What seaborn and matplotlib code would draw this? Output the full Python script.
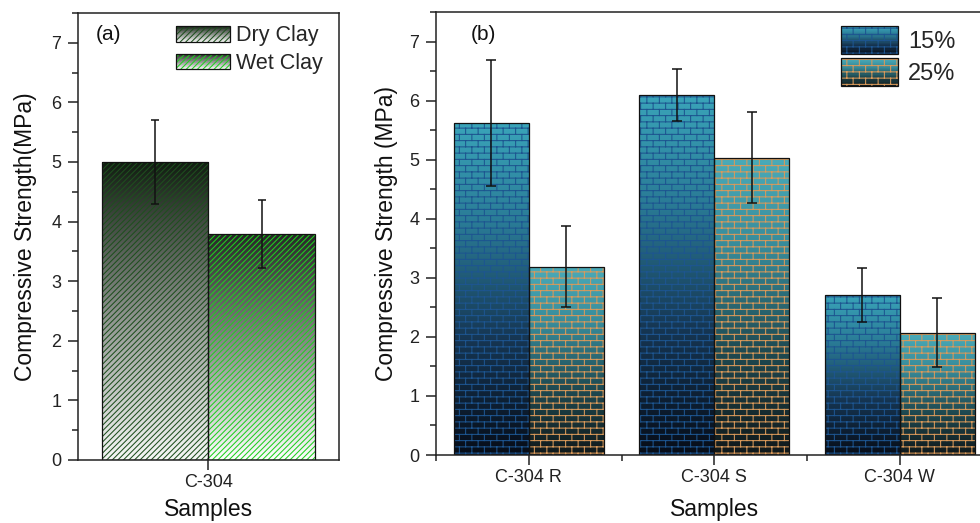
import warnings
warnings.filterwarnings('ignore')
import numpy as np
import pandas as pd
import matplotlib
matplotlib.use('Agg')
import matplotlib.pyplot as plt
import seaborn as sns
from matplotlib.patches import Rectangle
from matplotlib.colors import LinearSegmentedColormap
from matplotlib.legend_handler import HandlerBase
from matplotlib.ticker import MultipleLocator, FixedLocator
from matplotlib.container import BarContainer
from matplotlib import hatch as mhatch
from matplotlib.path import Path

# ---------------- data ----------------
samples_a = ["C-304"]
types_a = ["Dry Clay", "Wet Clay"]
strength_a = [5.00, 3.79]
error_a = [0.70, 0.57]

samples_b = ["C-304 R", "C-304 S", "C-304 W"]
levels_b = ["15%", "25%"]
strength_15 = [5.62, 6.09, 2.71]
error_15 = [1.06, 0.44, 0.46]
strength_25 = [3.19, 5.03, 2.07]
error_25 = [0.69, 0.77, 0.58]

yticks = [0, 1, 2, 3, 4, 5, 6, 7]


# ---------------- brick hatch ----------------
class BrickHatch(mhatch.HatchPatternBase):
    rows, cols = 16, 8

    def __init__(self, hatch, density):
        n = hatch.count('b')
        if n:
            self.num_lines = self.rows + self.rows * self.cols + self.cols
        else:
            self.num_lines = 0
        self.num_vertices = self.num_lines * 2

    def set_vertices_and_codes(self, vertices, codes):
        R, C = self.rows, self.cols
        segs = []
        for k in range(R):
            y = (k + 0.5) / R
            segs.append(((0.0, y), (1.0, y)))
        for k in range(R):
            y0 = (k + 0.5) / R
            y1 = min(y0 + 1.0 / R, 1.0)
            off = 0.25 + 0.5 * (k % 2)
            for j in range(C):
                x = (j + off) / C
                segs.append(((x, y0), (x, y1)))
        off = 0.25 + 0.5 * ((R - 1) % 2)
        for j in range(C):
            x = (j + off) / C
            segs.append(((x, 0.0), (x, 0.5 / R)))
        arr = np.array(segs, dtype=float).reshape(-1, 2)
        vertices[:] = arr
        codes[0::2] = Path.MOVETO
        codes[1::2] = Path.LINETO


mhatch._hatch_types.append(BrickHatch)

# ---------------- style ----------------
sns.set_style('ticks')
plt.rcParams['font.family'] = ['Liberation Sans', 'DejaVu Sans']
plt.rcParams['hatch.linewidth'] = 0.75
plt.rcParams['axes.linewidth'] = 1.1

cmap_dry = LinearSegmentedColormap.from_list('dry', ['#f6f8f6', '#8a8f8a', '#101c10'])
cmap_wet = LinearSegmentedColormap.from_list('wet', ['#ffffff', '#8c8c8c', '#262626'])
cmap_15 = LinearSegmentedColormap.from_list('c15', [(0, '#070d18'), (0.35, '#163653'),
                                                     (0.7, '#2a7b96'), (1, '#3aa4b9')])
cmap_25 = LinearSegmentedColormap.from_list('c25', [(0, '#10181a'), (0.35, '#1f4a52'),
                                                     (0.7, '#388b9a'), (1, '#4aabb9')])
hatch_a = ['//////', '//////']
hcol_a = ['#1e4f1e', '#1fd01f']
cmaps_a = [cmap_dry, cmap_wet]
hatch_b = ['b', 'b']
hcol_b = ['#1d5590', '#d9995a']
cmaps_b = [cmap_15, cmap_25]


class GradHandler(HandlerBase):
    def __init__(self, cmap, hatch, hcolor):
        super().__init__()
        self.cmap, self.hatch, self.hcolor = cmap, hatch, hcolor

    def create_artists(self, legend, orig_handle, xdescent, ydescent,
                       width, height, fontsize, trans):
        x0, y0 = -xdescent, -ydescent
        arts = []
        n = 24
        for i in range(n):
            arts.append(Rectangle((x0, y0 + height * i / n), width, height / n * 1.08,
                                  facecolor=self.cmap((i + 0.5) / n), edgecolor='none',
                                  lw=0, antialiased=False, transform=trans))
        arts.append(Rectangle((x0, y0), width, height, facecolor='none',
                              edgecolor=self.hcolor, hatch=self.hatch, lw=0,
                              transform=trans))
        arts.append(Rectangle((x0, y0), width, height, fill=False,
                              edgecolor='#111111', lw=0.9, transform=trans))
        return arts


def decorate(ax, cmaps, hatches, hcolors, values, errors, capsize):
    bars = [c for c in list(ax.containers) if isinstance(c, BarContainer)]
    for j, cont in enumerate(bars):
        xs = []
        for p in cont.patches:
            x0, y0 = p.get_xy()
            w, h = p.get_width(), p.get_height()
            im = ax.imshow(np.linspace(0, 1, 256).reshape(-1, 1), cmap=cmaps[j],
                           origin='lower', extent=(x0, x0 + w, y0, y0 + h),
                           aspect='auto', interpolation='bilinear', zorder=0.5)
            im.set_clip_path(p)
            p.set_facecolor('none')
            p.set_edgecolor(hcolors[j])
            p.set_hatch(hatches[j])
            p.set_linewidth(0)
            p.set_zorder(1)
            ax.add_patch(Rectangle((x0, y0), w, h, fill=False, edgecolor='#111111',
                                   lw=0.9, zorder=2))
            xs.append(x0 + w / 2)
        ax.errorbar(xs, values[j], yerr=errors[j], fmt='none', ecolor='#111111',
                    elinewidth=1.1, capsize=capsize, capthick=1.1, zorder=3)


fig = plt.figure(figsize=(9.8, 5.23), dpi=100)
axA = fig.add_axes([0.0796, 0.1205, 0.2663, 0.8547])
axB = fig.add_axes([0.4449, 0.1300, 0.5679, 0.8471])

# ---------------- panel (a) ----------------
df_a = pd.DataFrame({'Samples': samples_a * len(types_a),
                     'type': types_a,
                     'value': strength_a})
sns.barplot(data=df_a, x='Samples', y='value', hue='type', hue_order=types_a,
            errorbar=None, width=0.816, legend=False, ax=axA)
decorate(axA, cmaps_a, hatch_a, hcol_a,
         [[v] for v in strength_a], [[e] for e in error_a], 3)

# ---------------- panel (b) ----------------
df_b = pd.DataFrame({'Samples': samples_b * 2,
                     'level': [levels_b[0]] * 3 + [levels_b[1]] * 3,
                     'value': strength_15 + strength_25})
sns.barplot(data=df_b, x='Samples', y='value', hue='level', hue_order=levels_b,
            order=samples_b, errorbar=None, width=0.81, legend=False, ax=axB)
decorate(axB, cmaps_b, hatch_b, hcol_b,
         [strength_15, strength_25], [error_15, error_25], 3.6)

# ---------------- axes styling ----------------
for ax in (axA, axB):
    ax.set_ylim(0, 7.5)
    ax.set_yticks(yticks)
    ax.yaxis.set_minor_locator(MultipleLocator(0.5))
    ax.tick_params(axis='y', which='major', direction='out', length=7, width=1.1,
                   labelsize=13, colors='#222222', pad=5)
    ax.tick_params(axis='x', which='major', direction='out', length=7, width=1.1,
                   labelsize=13, colors='#222222', pad=3)
    ax.tick_params(axis='y', which='minor', direction='out', length=4, width=1.1,
                   color='#222222')
    for s in ax.spines.values():
        s.set_visible(True)
        s.set_linewidth(1.1)
        s.set_color('#222222')

axA.set_xlabel('Samples', fontsize=16.5, color='#111111', labelpad=5)
axB.set_xlabel('Samples', fontsize=16.5, color='#111111', labelpad=9)
axA.set_xlim(-0.5, 0.5)
axB.set_xlim(-0.5, 2.5)
axB.xaxis.set_minor_locator(FixedLocator([-0.5, 0.5, 1.5, 2.5]))
axB.tick_params(axis='x', which='minor', direction='out', length=4, width=1.1,
                color='#222222')
axA.set_ylabel('Compressive Strength(MPa)', fontsize=16.5, color='#111111', labelpad=10)
axB.set_ylabel('Compressive Strength (MPa)', fontsize=16.5, color='#111111', labelpad=8)

axA.text(0.069, 0.951, '(a)', transform=axA.transAxes, fontsize=15, va='center',
         ha='left', color='#111111')
axB.text(0.063, 0.95, '(b)', transform=axB.transAxes, fontsize=15, va='center',
         ha='left', color='#111111')

# ---------------- legends ----------------
hA = [Rectangle((0, 0), 1, 1) for _ in types_a]
legA = axA.legend(hA, types_a, loc='upper left', bbox_to_anchor=(0.375, 0.972),
                  frameon=False, fontsize=15.5, handlelength=2.5, handleheight=0.75,
                  handletextpad=0.3, labelspacing=0.3, borderpad=0, borderaxespad=0,
                  handler_map={h: GradHandler(cmaps_a[i], hatch_a[i], hcol_a[i])
                               for i, h in enumerate(hA)})
hB = [Rectangle((0, 0), 1, 1) for _ in levels_b]
legB = axB.legend(hB, levels_b, loc='upper left', bbox_to_anchor=(0.727, 0.968),
                  frameon=False, fontsize=17, handlelength=2.45, handleheight=1.45,
                  handletextpad=0.4, labelspacing=0.17, borderpad=0, borderaxespad=0,
                  handler_map={h: GradHandler(cmaps_b[i], hatch_b[i], hcol_b[i])
                               for i, h in enumerate(hB)})

fig.savefig('out.png', dpi=100)
